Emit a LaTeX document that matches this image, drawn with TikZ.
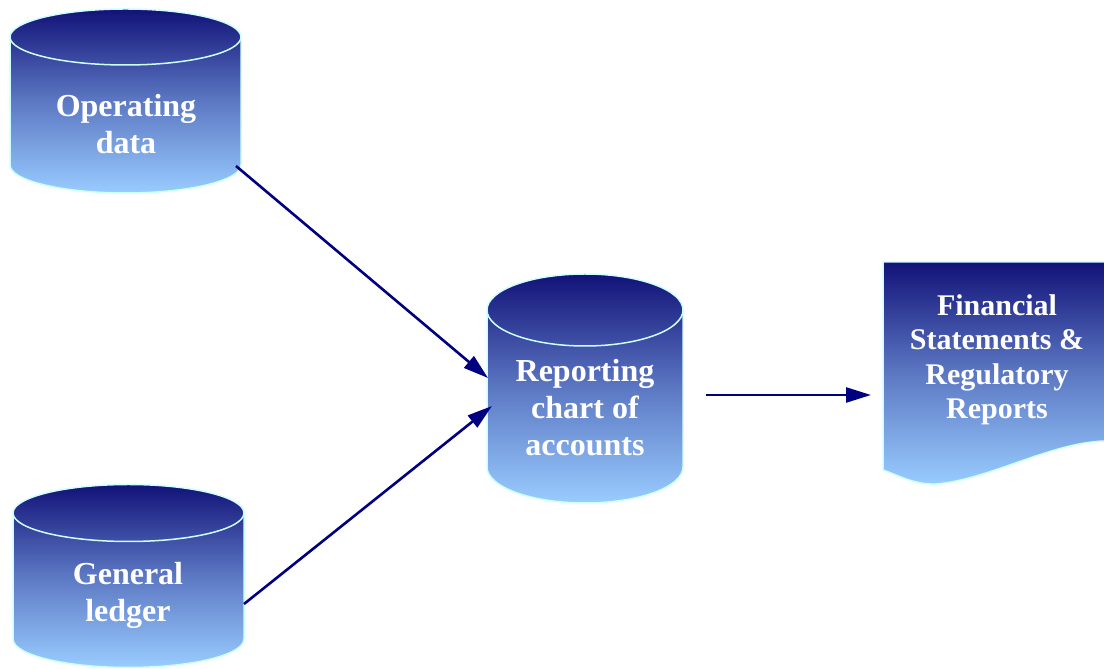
\documentclass[tikz,border=0pt]{standalone}
\usepackage{fontspec}
\setmainfont{Liberation Serif}
\usetikzlibrary{arrows.meta}
\definecolor{navytop}{RGB}{18,18,120}
\definecolor{navymid}{RGB}{92,120,195}
\definecolor{skybot}{RGB}{153,204,255}
\definecolor{rim}{RGB}{204,255,255}
\definecolor{arrowblue}{RGB}{0,0,128}
\tikzset{
  dbbody/.style={top color=navytop,bottom color=skybot,middle color=navymid,draw=rim,line width=1.5pt},
  rimline/.style={draw=rim,line width=1.5pt},
  dbtext/.style={text=white,font=\bfseries\fontsize{32}{37}\selectfont,align=center},
  flow/.style={draw=arrowblue,line width=2.6pt,-{Triangle[length=25pt,width=15pt]}}
}
% cylinder: #1 centre x, #2 x radius, #3 top ellipse centre y, #4 bottom ellipse centre y, #5 y radius
\newcommand\dbcylinder[5]{%
  \path[dbbody] (#1-#2,#3) arc[start angle=180,end angle=0,x radius=#2pt,y radius=#5pt]
     -- (#1+#2,#4) arc[start angle=0,end angle=-180,x radius=#2pt,y radius=#5pt] -- cycle;
  \draw[rimline] (#1+#2,#3) arc[start angle=0,end angle=-180,x radius=#2pt,y radius=#5pt];
}
\begin{document}
\begin{tikzpicture}[x=1pt,y=1pt]
  \useasboundingbox (0,0) rectangle (1104,669);

  % data stores
  \dbcylinder{125.5}{115.5}{632}{504}{28}
  \dbcylinder{128.5}{115.5}{156}{30}{28.5}
  \dbcylinder{585}{98}{359}{202}{36}

  % report document with wavy lower edge
  \path[dbbody] (883,407) -- (1112,407) -- (1112,228) -- (1104,228)
     .. controls (1050,226) and (990,190) .. (937,185)
     .. controls (915,184) and (900,193) .. (883,199) -- cycle;

  % labels
  \node[dbtext] (opdata) at (126,545) {Operating\\data};
  \node[dbtext] (ledger) at (128,74) {General\\ledger};
  \node[dbtext] (chart) at (585,261) {Reporting\\chart of\\accounts};
  \node[dbtext,font=\bfseries\fontsize{30}{34.5}\selectfont] (reports) at (997,309) {Financial\\Statements \&\\Regulatory\\Reports};

  % connector ends
  \coordinate (opout) at (236,503);
  \coordinate (chartinA) at (488,291);
  \coordinate (ledgerout) at (244,65);
  \coordinate (chartinB) at (492,263);
  \coordinate (chartout) at (706,274);
  \coordinate (reportsin) at (871,274);

  \draw[flow] (opout) -- (chartinA);
  \draw[flow] (ledgerout) -- (chartinB);
  \draw[flow] (chartout) -- (reportsin);
\end{tikzpicture}
\end{document}
